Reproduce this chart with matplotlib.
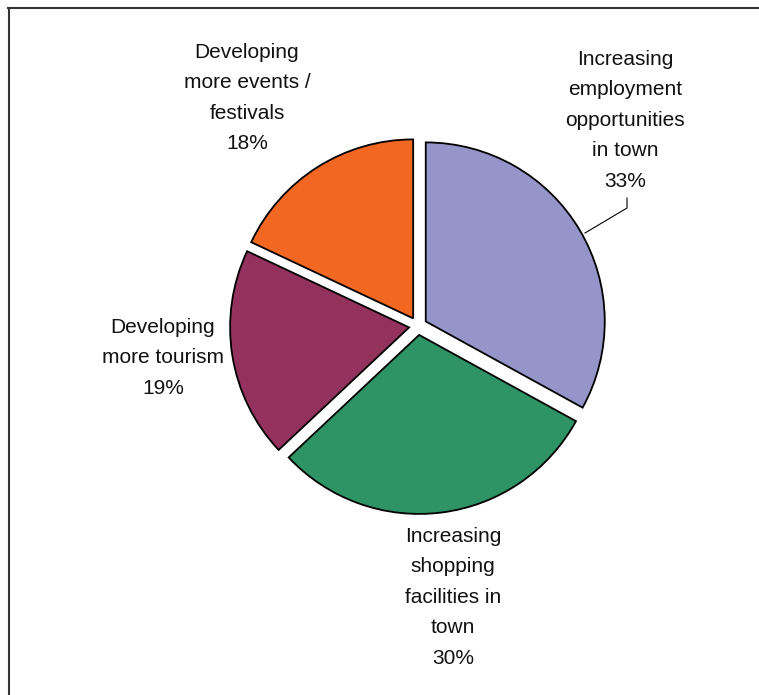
import matplotlib.pyplot as plt

labels = ['Increasing\nemployment\nopportunities\nin town',
          'Increasing\nshopping\nfacilities in\ntown',
          'Developing\nmore tourism',
          'Developing\nmore events /\nfestivals']
shares = [33, 30, 19, 18]
colors = ['#9595C9', '#2E9466', '#94325E', '#F26722']

plt.rcParams['font.family'] = ['Liberation Sans', 'DejaVu Sans']

fig = plt.figure(figsize=(7.59, 6.95), dpi=100)
ax = fig.add_axes([0, 0, 1, 1])

# explode is in data units here (axes are in pixels)
ax.pie(shares, colors=colors, startangle=90, counterclock=False,
       radius=179, center=(418, 369), explode=[9] * 4,
       wedgeprops=dict(edgecolor='black', linewidth=1.3))

# pie() rescales the axes, so fix the pixel-sized frame afterwards
ax.set_xlim(0, 759)
ax.set_ylim(0, 695)
ax.set_aspect('equal')
ax.axis('off')

# label text blocks (centre x, top y)
label_pos = [(625, 645), (453, 168), (163, 377), (247, 652)]
for lab, v, (x, y) in zip(labels, shares, label_pos):
    ax.text(x, y, '%s\n%d%%' % (lab, v), ha='center', va='top',
            fontsize=15, linespacing=1.76, color='#111111')

# leader line for the employment slice
ax.plot([627, 627, 585], [497, 487, 462], color='black', linewidth=0.8)

# outer frame
ax.plot([8.5, 8.5], [0, 687], color='#333333', linewidth=1.5)
ax.plot([8, 759], [687, 687], color='#333333', linewidth=1.5)

plt.savefig('out.png')
